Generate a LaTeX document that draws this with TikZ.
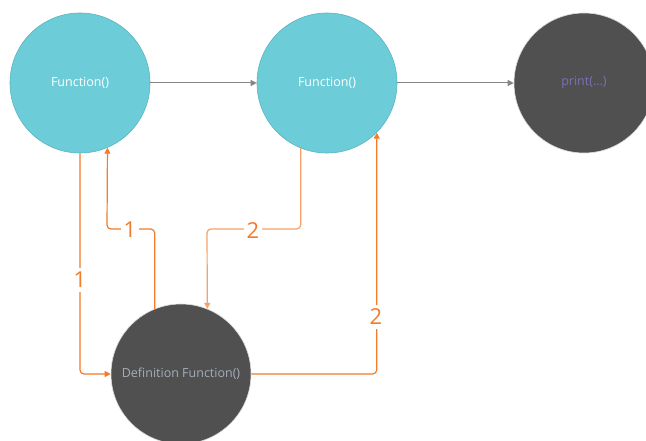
\documentclass[tikz,border=0pt]{standalone}
\usepackage{fontspec}
\setmainfont{Open Sans}
\usetikzlibrary{arrows.meta}
\definecolor{cyanfill}{HTML}{6CCDD8}
\definecolor{cyanline}{HTML}{5AB4BF}
\definecolor{darkfill}{HTML}{505050}
\definecolor{orng}{HTML}{F47B2A}
\definecolor{orngl}{HTML}{F7A067}
\definecolor{grayarr}{HTML}{858585}
\definecolor{deftext}{HTML}{A3ADB8}
\definecolor{printtext}{HTML}{7E70B6}
\tikzset{
  cyancirc/.style={circle, fill=cyanfill, draw=cyanline, line width=0.6pt, minimum size=140pt, inner sep=0pt, text=white, font=\fontsize{12.5}{14}\selectfont},
  darkcirc/.style={circle, fill=darkfill, draw=white!80!darkfill, line width=0.6pt, minimum size=140pt, inner sep=0pt, font=\fontsize{12.5}{14}\selectfont},
  grayflow/.style={draw=grayarr, line width=1pt, -{Triangle[length=6pt,width=6pt]}},
  orflow/.style={draw=orng, line width=1.2pt, rounded corners=4pt, -{Triangle[length=6pt,width=6pt]}},
  orflowl/.style={draw=orngl, line width=1.2pt, rounded corners=4pt, -{Triangle[length=6pt,width=6pt]}},
  numlabel/.style={fill=white, text=orng, inner xsep=3pt, inner ysep=4pt, font=\fontsize{22}{24}\selectfont}
}
\begin{document}
\begin{tikzpicture}[x=1pt,y=-1pt]
\useasboundingbox (0,0) rectangle (646,441);
\clip (0,0) rectangle (646,441);
\fill[white] (0,0) rectangle (646,441);
\node[cyancirc] (f1) at (80,83) {Function()};
\node[cyancirc] (f2) at (327,83) {Function()};
\node[darkcirc, text=printtext] (pr) at (584,83) {\raisebox{5pt}{print(...)}};
\node[darkcirc, text=deftext] (df) at (181,374) {Definition Function()};
% gray flow
\draw[grayflow] (f1.east) -- (f2.west);
\draw[grayflow] (f2.east) -- (pr.west);
% A: f1 -> df
\draw[orflow] (f1.south) |- (df.west);
% B: df -> f1
\draw[orflow] (df.112.7) |- (107,229) -- (f1.-67.3);
% C: f2 -> df
\draw[orflowl] (f2.-112.7) |- (207,229) -- (df.68.2);
% D: df -> f2
\draw[orflow] (df.east) -| (f2.-45.6);
% labels
\node[numlabel] (l1a) at (80,280) {1};
\node[numlabel] (l1b) at (130,230) {1};
\node[numlabel] (l2a) at (253,231) {2};
\node[numlabel] (l2b) at (376,317) {2};
\end{tikzpicture}
\end{document}
